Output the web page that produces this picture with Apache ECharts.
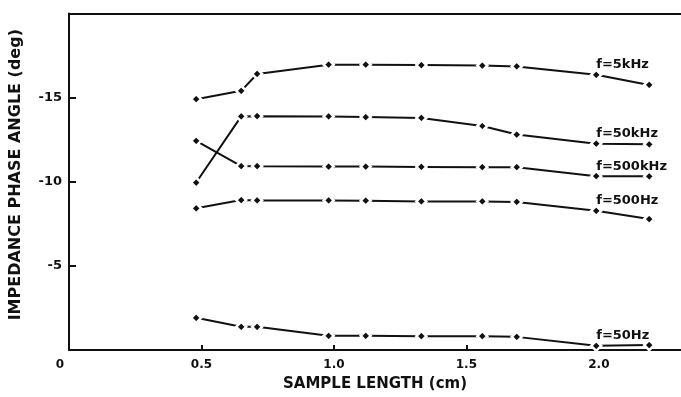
<!DOCTYPE html>
<html>
<head>
<meta charset="utf-8">
<script src="https://cdn.jsdelivr.net/npm/echarts@6/dist/echarts.min.js"></script>
<style>
html,body{margin:0;padding:0;background:#fff;}
#chart{width:681px;height:397px;}
</style>
</head>
<body>
<div id="chart"></div>
<script>
// Sample length (cm)
var sampleLength = [0.48, 0.65, 0.71, 0.98, 1.12, 1.33, 1.56, 1.69, 1.99, 2.19];
// Impedance phase angle (deg) per frequency
var f5kHz   = [-14.9, -15.4, -16.4, -16.95, -16.95, -16.93, -16.9, -16.85, -16.35, -15.75];
var f50kHz  = [-9.95, -13.88, -13.89, -13.88, -13.84, -13.79, -13.31, -12.8, -12.26, -12.22];
var f500kHz = [-12.43, -10.93, -10.92, -10.9, -10.9, -10.88, -10.86, -10.86, -10.33, -10.32];
var f500Hz  = [-8.42, -8.91, -8.89, -8.89, -8.87, -8.83, -8.83, -8.8, -8.27, -7.78];
var f50Hz   = [-1.91, -1.38, -1.38, -0.84, -0.84, -0.82, -0.82, -0.78, -0.25, -0.29];
var seriesNames = ['f=5kHz', 'f=50kHz', 'f=500kHz', 'f=500Hz', 'f=50Hz'];
var seriesValues = [f5kHz, f50kHz, f500kHz, f500Hz, f50Hz];
var labelIndex = 8;
var yTicks = [-5, -10, -15];

var FONT = 'DejaVu Sans';
var INK = '#111';

function pairs(ys) {
  return ys.map(function (y, i) { return [sampleLength[i], y]; });
}

var series = seriesNames.map(function (name, k) {
  return {
    name: name,
    type: 'line',
    data: pairs(seriesValues[k]),
    symbol: 'diamond',
    symbolSize: 10,
    lineStyle: { color: INK, width: 2 },
    itemStyle: { color: INK, borderColor: '#fff', borderWidth: 2.5 },
    label: {
      show: true,
      position: 'top',
      align: 'left',
      distance: -3,
      color: INK,
      fontFamily: FONT,
      fontWeight: 'bold',
      fontSize: 13,
      formatter: function (p) { return p.dataIndex === labelIndex ? name : ''; }
    },
    emphasis: { disabled: true },
    silent: true
  };
});

var chart = echarts.init(document.getElementById('chart'), null, { renderer: 'canvas' });
chart.setOption({
  animation: false,
  backgroundColor: '#fff',
  grid: { left: 69, right: 0, top: 13.4, bottom: 41, containLabel: false },
  xAxis: [{
    type: 'value',
    min: 0,
    max: 2.31,
    interval: 0.5,
    position: 'bottom',
    name: 'SAMPLE LENGTH (cm)',
    nameLocation: 'middle',
    nameGap: 27,
    nameTextStyle: { color: INK, fontFamily: FONT, fontWeight: 'bold', fontSize: 15 },
    axisLine: { show: true, lineStyle: { color: INK, width: 2 } },
    axisTick: { show: true, inside: true, length: 5, lineStyle: { color: INK, width: 2 } },
    axisLabel: {
      show: true,
      margin: 9,
      color: INK,
      fontFamily: FONT,
      fontWeight: 'bold',
      fontSize: 12,
      showMaxLabel: false,
      formatter: function (v) { return v === 0 ? '{z|0}' : v.toFixed(1); },
      rich: { z: { padding: [0, 18, 0, 0], color: INK, fontFamily: FONT, fontWeight: 'bold', fontSize: 12 } }
    },
    splitLine: { show: false }
  }, {
    type: 'value',
    min: 0,
    max: 2.31,
    position: 'top',
    axisLine: { show: true, lineStyle: { color: INK, width: 2 } },
    axisTick: { show: false },
    axisLabel: { show: false },
    splitLine: { show: false }
  }],
  yAxis: {
    type: 'value',
    min: -20,
    max: 0,
    interval: 5,
    inverse: true,
    name: 'IMPEDANCE PHASE ANGLE (deg)',
    nameLocation: 'middle',
    nameGap: 45,
    nameTextStyle: { color: INK, fontFamily: FONT, fontWeight: 'bold', fontSize: 16, padding: [0, 0, 0, 14] },
    axisLine: { show: true, lineStyle: { color: INK, width: 2 } },
    axisTick: { show: true, inside: true, length: 7, lineStyle: { color: INK, width: 2 } },
    axisLabel: {
      show: true,
      margin: 7,
      color: INK,
      fontFamily: FONT,
      fontWeight: 'bold',
      fontSize: 13,
      showMinLabel: false,
      showMaxLabel: false,
      formatter: function (v) { return yTicks.indexOf(v) >= 0 ? String(v) : ''; }
    },
    splitLine: { show: false }
  },
  series: series
});
</script>
</body>
</html>
